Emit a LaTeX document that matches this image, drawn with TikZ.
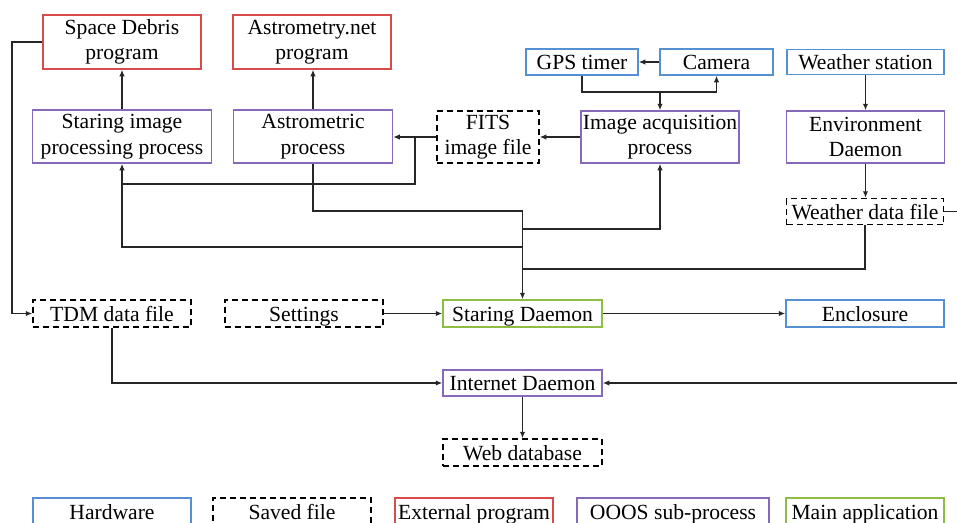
\documentclass[tikz,border=0pt]{standalone}
\usepackage{fontspec}
\setmainfont{Liberation Serif}
\usetikzlibrary{arrows.meta}
\definecolor{hwblue}{RGB}{85,145,210}
\definecolor{extred}{RGB}{215,75,75}
\definecolor{subpurple}{RGB}{135,105,185}
\definecolor{maingreen}{RGB}{140,190,70}
\tikzset{
  box/.style={draw, line width=1.5pt, inner sep=0pt, align=center,
    font=\fontsize{21.6}{25.5}\selectfont, text=black},
  single/.style={text height=15pt, text depth=0pt},
  hwbox/.style={box, draw=hwblue},
  filebox/.style={box, draw=black, dash pattern=on 6pt off 4pt},
  extbox/.style={box, draw=extred},
  subbox/.style={box, draw=subpurple},
  mainbox/.style={box, draw=maingreen},
  conn/.style={draw=black!85, line width=1.6pt},
  arr/.style={conn, -{Latex[length=6.5pt,width=5.5pt]}},
}
\begin{document}
\begin{tikzpicture}[x=1pt,y=-1pt]
\clip (0,0) rectangle (957,522);
\fill[white] (0,0) rectangle (957,522);

% top row
\node[extbox, minimum width=158pt, minimum height=54pt] (sd) at (122,42) {Space Debris\\program};
\node[extbox, minimum width=158pt, minimum height=54pt] (an) at (312,42) {Astrometry.net\\program};
\node[hwbox, single, minimum width=112pt, minimum height=26pt] (gps) at (582,62) {GPS timer};
\node[hwbox, single, minimum width=113pt, minimum height=26pt] (cam) at (716.5,62) {Camera};
\node[hwbox, single, minimum width=157pt, minimum height=25pt] (ws) at (865.5,62) {Weather station};

% second row
\node[subbox, minimum width=179pt, minimum height=53pt] (sip) at (122,136.5) {Staring image\\processing process};
\node[subbox, minimum width=159pt, minimum height=53pt] (ap) at (313,136.5) {Astrometric\\process};
\node[filebox, minimum width=102pt, minimum height=52pt] (fits) at (488,137) {FITS\\image file};
\node[subbox, minimum width=158pt, minimum height=52pt] (iap) at (660,137) {Image acquisition\\process};
\node[subbox, minimum width=158pt, minimum height=52pt] (ed) at (865.5,137) {Environment\\Daemon};

\node[filebox, single, minimum width=157pt, minimum height=26pt] (wdf) at (865,211.5) {Weather data file};

% middle rows
\node[filebox, single, minimum width=158pt, minimum height=27pt] (tdm) at (112,313.5) {TDM data file};
\node[filebox, single, minimum width=158pt, minimum height=27pt] (set) at (304,313.5) {Settings};
\node[mainbox, single, minimum width=159pt, minimum height=27pt] (sdm) at (522.5,313.5) {Staring Daemon};
\node[hwbox, single, minimum width=158pt, minimum height=27pt] (enc) at (865,313.5) {Enclosure};
\node[subbox, single, minimum width=159pt, minimum height=26pt] (idm) at (522.5,383) {Internet Daemon};
\node[filebox, single, minimum width=159pt, minimum height=27pt] (web) at (522.5,452.5) {Web database};

% legend
\node[hwbox, single, minimum width=158pt, minimum height=27pt] (lhw) at (112,511.5) {Hardware};
\node[filebox, single, minimum width=158pt, minimum height=27pt] (lsf) at (292,511.5) {Saved file};
\node[extbox, single, minimum width=158pt, minimum height=27pt] (lext) at (474,511.5) {External program};
\node[subbox, single, minimum width=192pt, minimum height=27pt] (lsub) at (673,511.5) {OOOS sub-process};
\node[mainbox, single, minimum width=158pt, minimum height=27pt] (lmain) at (865,511.5) {Main application};

% helper coordinates
\coordinate (b92) at (0,92);
\coordinate (b184) at (0,184);
\coordinate (b211) at (0,211);
\coordinate (b229) at (0,229);
\coordinate (b247) at (0,247);
\coordinate (b269) at (0,269);
\coordinate (fj) at (415,137);
\coordinate (lft) at (12,0);
\coordinate (rgt) at (975,0);

% connectors
\draw[arr] (sip.north) -- (sip.north |- sd.south);
\draw[arr] (ap.north) -- (ap.north |- an.south);
\draw[arr] (cam.west) -- (gps.east);
\draw[arr] (gps.south) |- (cam.south |- b92) -- (cam.south);
\draw[arr] (iap.north |- b92) -- (iap.north);
\draw[arr] (iap.west) -- (fits.east |- iap.west);
\draw[arr] (fits.west) -- (ap.east |- fits.west);
\draw[conn] (fj) -- (fj |- b184) -- (sip.south |- b184);
\draw[arr] (ap.south) |- (sdm.north |- b211) -- (sdm.north);
\draw[arr] (sdm.north |- b229) -| (iap.south);
\draw[arr] (sdm.north |- b247) -| (sip.south);
\draw[conn] (wdf.south) |- (sdm.north |- b269);
\draw[arr] (ws.south) -- (ed.north);
\draw[arr] (ed.south) -- (ed.south |- wdf.north);
\draw[arr] (sd.west) -- (sd.west -| lft) |- (tdm.west);
\draw[arr] (set.east) -- (sdm.west);
\draw[arr] (sdm.east) -- (enc.west);
\draw[arr] (tdm.south) |- (idm.west);
\draw[arr] (wdf.east) -- (wdf.east -| rgt) |- (idm.east);
\draw[arr] (idm.south) -- (web.north);
\end{tikzpicture}
\end{document}
